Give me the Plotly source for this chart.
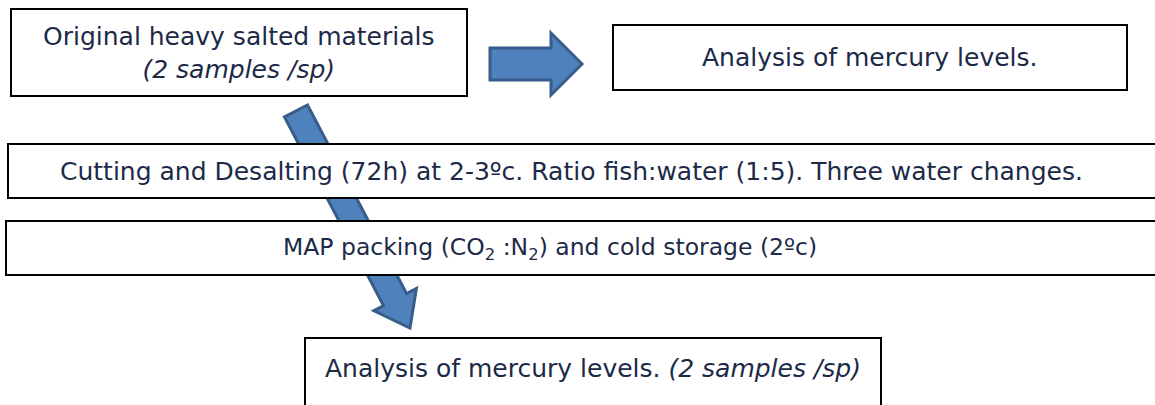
import math
import plotly.graph_objects as go

W, H = 1155, 405

# ---- content ----
box_labels = [
    "Original heavy salted materials<br><i>(2 samples /sp)</i>",
    "Analysis of mercury levels.",
    "Cutting and Desalting (72h) at 2-3ºc. Ratio fish:water (1:5). Three water changes.",
    "MAP packing (CO<sub>2</sub> :N<sub>2</sub>) and cold storage (2ºc)",
    "Analysis of mercury levels. <i>(2 samples /sp)</i>",
]
# box geometry: x0, x1, y0, y1 (pixels, y downward)
box_x0 = [11, 613, 8, 6, 305]
box_x1 = [467, 1127, 1175, 1175, 881]
box_y0 = [9, 25, 144, 221, 338]
box_y1 = [96, 90, 198, 275, 440]
# text anchor positions
text_x = [239, 870, 571, 550, 593]
text_y = [53, 57, 171, 248, 368]
text_size = [25, 25, 25, 23.5, 25]

# arrows: tail (x,y), tip (x,y), shaft half width, head half width, head length
arrow_tail = [(490, 64), (296, 111)]
arrow_tip = [(582, 64), (410, 328)]
arrow_shaft = [16, 13]
arrow_headw = [31, 24]
arrow_headl = [31, 32]

FILL = "#4f81bd"
EDGE = "#385d8a"
TXT = "#1c2a48"


def arrow_path(tail, tip, sw, hw, hl):
    dx, dy = tip[0] - tail[0], tip[1] - tail[1]
    L = math.hypot(dx, dy)
    ux, uy = dx / L, dy / L
    nx, ny = -uy, ux
    bx, by = tip[0] - ux * hl, tip[1] - uy * hl
    pts = [
        (tail[0] + nx * sw, tail[1] + ny * sw),
        (bx + nx * sw, by + ny * sw),
        (bx + nx * hw, by + ny * hw),
        tip,
        (bx - nx * hw, by - ny * hw),
        (bx - nx * sw, by - ny * sw),
        (tail[0] - nx * sw, tail[1] - ny * sw),
    ]
    return "M " + " L ".join(f"{x:.1f},{y:.1f}" for x, y in pts) + " Z"


fig = go.Figure()
fig.add_trace(go.Scatter(x=[0, W], y=[0, H], mode="markers",
                         marker=dict(opacity=0), hoverinfo="skip", showlegend=False))

shapes = []
# diagonal arrow drawn first (behind boxes)
shapes.append(dict(type="path", path=arrow_path(arrow_tail[1], arrow_tip[1], arrow_shaft[1],
                                                 arrow_headw[1], arrow_headl[1]),
                   fillcolor=FILL, line=dict(color=EDGE, width=3), xref="x", yref="y"))
for i in range(len(box_labels)):
    shapes.append(dict(type="rect", x0=box_x0[i], x1=box_x1[i], y0=box_y0[i], y1=box_y1[i],
                       fillcolor="white", line=dict(color="black", width=2), xref="x", yref="y"))
shapes.append(dict(type="path", path=arrow_path(arrow_tail[0], arrow_tip[0], arrow_shaft[0],
                                                 arrow_headw[0], arrow_headl[0]),
                   fillcolor=FILL, line=dict(color=EDGE, width=3), xref="x", yref="y"))

annotations = []
for i, lab in enumerate(box_labels):
    annotations.append(dict(x=text_x[i], y=text_y[i], xref="x", yref="y", text=lab,
                            showarrow=False, xanchor="center", yanchor="middle",
                            font=dict(family="DejaVu Sans", size=text_size[i], color=TXT)))

fig.update_layout(
    width=W, height=H,
    margin=dict(l=0, r=0, t=0, b=0),
    paper_bgcolor="white", plot_bgcolor="white",
    xaxis=dict(range=[0, W], visible=False, fixedrange=True),
    yaxis=dict(range=[H, 0], visible=False, fixedrange=True),
    shapes=shapes, annotations=annotations, showlegend=False,
)
fig.write_html("out.html", config={"displayModeBar": False},
               post_script="document.body.style.margin='0px';")
